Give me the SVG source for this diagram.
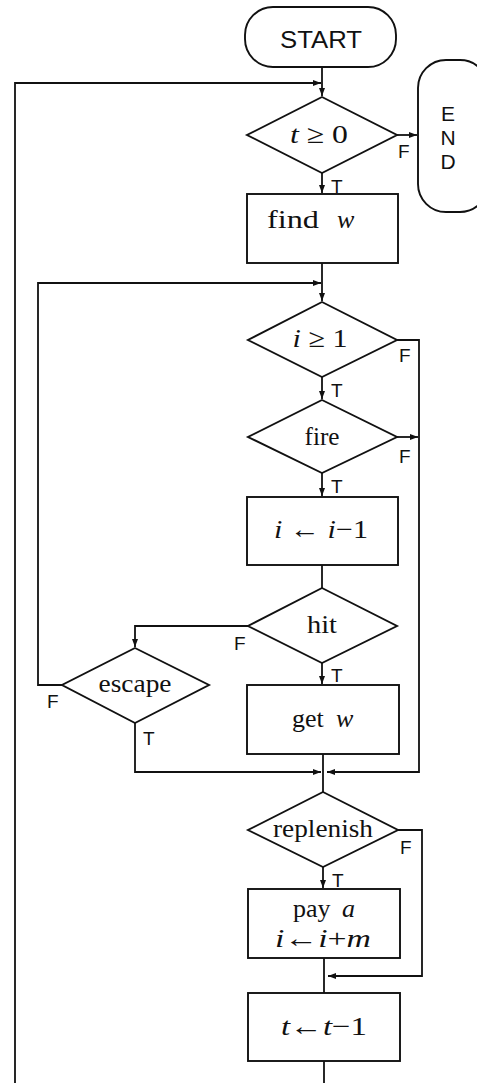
<svg xmlns="http://www.w3.org/2000/svg" width="477" height="1083" viewBox="0 0 477 1083">
<style>
.n{fill:#fff;stroke:#111;stroke-width:1.9}
.c{fill:none;stroke:#111;stroke-width:1.8}
.a{marker-end:url(#ah)}
.t{font-family:"Liberation Serif","DejaVu Serif",serif;font-size:26px;fill:#111;text-anchor:middle}
.ts{font-family:"Liberation Serif","DejaVu Serif",serif;font-size:26px;fill:#111}
.m{font-style:italic}
.sf{font-family:"Liberation Sans","DejaVu Sans",sans-serif;fill:#111}
.l{font-family:"Liberation Sans","DejaVu Sans",sans-serif;font-size:19px;fill:#111}
</style>
<defs>
<marker id="ah" markerUnits="userSpaceOnUse" markerWidth="9" markerHeight="7" refX="8" refY="3" orient="auto">
<path d="M0,0 L8,3 L0,6 z" fill="#111"/>
</marker>
</defs>
<rect width="477" height="1083" fill="#fff"/>
<g id="connectors">
<path class="c a" d="M322,67 V96"/>
<path class="c a" d="M15,1083 V83 H321"/>
<path class="c a" d="M397,135 H417"/>
<path class="c a" d="M322,173 V193"/>
<path class="c a" d="M322,263 V301"/>
<path class="c a" d="M62,685 H38 V283 H321"/>
<path class="c a" d="M322,377 V399"/>
<path class="c a" d="M397,340 H419 V772 H327"/>
<path class="c a" d="M397,437 H418"/>
<path class="c a" d="M322,473 V496"/>
<path class="c" d="M322,565 V588"/>
<path class="c a" d="M248,626 H135 V647"/>
<path class="c a" d="M322,663 V684"/>
<path class="c a" d="M135,723 V772 H321"/>
<path class="c" d="M323,754 V792"/>
<path class="c a" d="M323,867 V888"/>
<path class="c a" d="M398,830 H422 V976 H328"/>
<path class="c" d="M324,958 V993"/>
<path class="c" d="M324,1061 V1083"/>
</g>
<g id="start">
<rect class="n" x="245" y="7" width="151" height="60" rx="28"/>
<text class="sf" x="321" y="48" font-size="24" text-anchor="middle" textLength="82" lengthAdjust="spacingAndGlyphs">START</text>
</g>
<g id="end">
<rect class="n" x="418" y="60" width="70" height="152" rx="28"/>
<text class="sf" font-size="21" text-anchor="middle"><tspan x="448" y="121">E</tspan><tspan x="448" y="145">N</tspan><tspan x="448" y="169">D</tspan></text>
</g>
<g id="cond-t">
<polygon class="n" points="322,97 397,135 322,173 247,135"/>
<text class="t" x="319" y="143" textLength="58" lengthAdjust="spacingAndGlyphs"><tspan class="m">t</tspan> ≥ 0</text>
<text class="l" x="398" y="158">F</text>
<text class="l" x="331" y="193">T</text>
</g>
<g id="find-w">
<rect class="n" x="247" y="194" width="151" height="69"/>
<text class="ts" x="267" y="228"><tspan textLength="52" lengthAdjust="spacingAndGlyphs">find</tspan><tspan class="m" x="337">w</tspan></text>
</g>
<g id="cond-i">
<polygon class="n" points="322,302 397,340 322,377 248,340"/>
<text class="t" x="320" y="347" textLength="55" lengthAdjust="spacingAndGlyphs"><tspan class="m">i</tspan> ≥ 1</text>
<text class="l" x="399" y="362">F</text>
<text class="l" x="331" y="397">T</text>
</g>
<g id="fire">
<polygon class="n" points="322,400 397,437 322,473 248,437"/>
<text class="t" x="322" y="445" textLength="35" lengthAdjust="spacingAndGlyphs">fire</text>
<text class="l" x="399" y="463">F</text>
<text class="l" x="331" y="493">T</text>
</g>
<g id="dec-i">
<rect class="n" x="247" y="497" width="151" height="68"/>
<text class="t" x="321" y="538" textLength="94" lengthAdjust="spacingAndGlyphs"><tspan class="m">i</tspan> ← <tspan class="m">i</tspan>−1</text>
</g>
<g id="hit">
<polygon class="n" points="322,588 397,626 322,663 248,626"/>
<text class="t" x="322" y="633" textLength="30" lengthAdjust="spacingAndGlyphs">hit</text>
<text class="l" x="234" y="650">F</text>
<text class="l" x="331" y="682">T</text>
</g>
<g id="escape">
<polygon class="n" points="135,648 209,685 135,723 62,685"/>
<text class="t" x="135" y="692" textLength="73" lengthAdjust="spacingAndGlyphs">escape</text>
<text class="l" x="47" y="708">F</text>
<text class="l" x="143" y="745">T</text>
</g>
<g id="get-w">
<rect class="n" x="247" y="685" width="152" height="69"/>
<text class="ts" x="292" y="727"><tspan>get</tspan><tspan class="m" x="336">w</tspan></text>
</g>
<g id="replenish">
<polygon class="n" points="323,792 398,830 323,867 248,830"/>
<text class="t" x="323" y="837" textLength="100" lengthAdjust="spacingAndGlyphs">replenish</text>
<text class="l" x="400" y="854">F</text>
<text class="l" x="332" y="887">T</text>
</g>
<g id="pay-a">
<rect class="n" x="248" y="889" width="152" height="69"/>
<text class="ts" x="293" y="917"><tspan>pay</tspan><tspan class="m" x="342">a</tspan></text>
<text class="t" x="323" y="947" textLength="96" lengthAdjust="spacingAndGlyphs"><tspan class="m">i</tspan>←<tspan class="m">i</tspan>+<tspan class="m">m</tspan></text>
</g>
<g id="dec-t">
<rect class="n" x="248" y="993" width="152" height="68"/>
<text class="t" x="324" y="1035" textLength="86" lengthAdjust="spacingAndGlyphs"><tspan class="m">t</tspan>←<tspan class="m">t</tspan>−1</text>
</g>
</svg>
